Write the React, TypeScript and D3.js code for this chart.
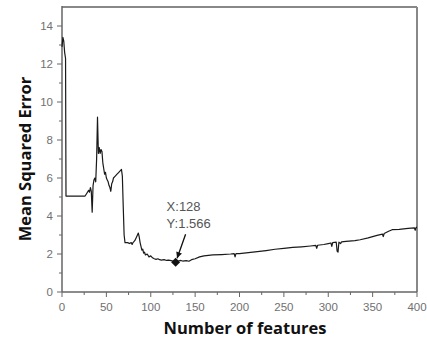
import React from "react";
import * as d3 from "d3";

const features: number[] = [0, 1, 2, 3, 4, 4.5, 10, 20, 26, 28, 30, 31, 32, 33, 34, 35, 36, 37, 38, 39, 40, 41, 42, 43, 44, 45, 46, 47, 48, 49, 50, 51, 52, 53, 54, 55, 56, 57, 58, 60, 62, 64, 66, 67, 68, 69, 70, 71, 74, 76, 78, 79, 80, 82, 84, 86, 87, 88, 89, 90, 91, 92, 93, 94, 96, 98, 100, 102, 104, 106, 108, 110, 112, 115, 118, 120, 123, 126, 128, 130, 133, 136, 140, 143, 146, 150, 155, 160, 165, 170, 180, 190, 194, 195, 196, 200, 210, 220, 230, 240, 250, 260, 270, 280, 286, 287, 288, 295, 300, 303, 304, 305, 309, 310, 311, 312, 314, 315, 320, 330, 336, 345, 355, 361, 362, 363, 368, 372, 380, 390, 397, 398, 399, 400];
const mse: number[] = [12.9, 13.4, 13.2, 12.6, 12.3, 5.05, 5.05, 5.05, 5.05, 5.2, 5.35, 5.25, 5.5, 5.3, 4.2, 5.6, 5.9, 6.0, 5.8, 7.0, 9.2, 7.3, 7.6, 7.3, 7.5, 7.4, 6.8, 6.5, 6.2, 6.3, 6.0, 5.9, 5.8, 5.6, 5.5, 5.3, 5.7, 5.8, 6.0, 6.1, 6.2, 6.3, 6.4, 6.45, 6.1, 4.5, 3.0, 2.6, 2.6, 2.55, 2.6, 2.5, 2.6, 2.7, 2.9, 3.1, 2.9, 2.6, 2.4, 2.2, 2.25, 2.05, 2.1, 1.95, 2.0, 1.85, 1.9, 1.8, 1.75, 1.72, 1.75, 1.7, 1.68, 1.7, 1.66, 1.68, 1.65, 1.62, 1.566, 1.62, 1.66, 1.63, 1.65, 1.62, 1.7, 1.75, 1.85, 1.9, 1.93, 1.95, 1.97, 2.0, 2.02, 1.85, 2.02, 2.02, 2.07, 2.12, 2.18, 2.25, 2.3, 2.35, 2.38, 2.42, 2.45, 2.3, 2.46, 2.5, 2.55, 2.58, 2.4, 2.6, 2.62, 2.15, 2.1, 2.62, 2.55, 2.64, 2.66, 2.7, 2.75, 2.85, 2.98, 3.05, 2.92, 3.08, 3.2, 3.28, 3.3, 3.35, 3.38, 3.25, 3.4, 3.4];
const xTicks: number[] = [0, 50, 100, 150, 200, 250, 300, 350, 400];
const yTicks: number[] = [0, 2, 4, 6, 8, 10, 12, 14];
const bestX = 128;
const bestY = 1.566;

export default function App() {
  const W = 427, H = 343;
  const L = 62, R = 417, T = 7, B = 292;
  const x = d3.scaleLinear().domain([0, 400]).range([L, R]);
  const y = d3.scaleLinear().domain([0, 15]).range([B, T]);
  const pts = features.map((f, i) => [f, mse[i]] as [number, number]);
  const line = d3.line<[number, number]>().x(d => x(d[0])).y(d => y(d[1]));
  const xMinor = d3.range(25, 400, 50);
  const yMinor = d3.range(1, 15, 2);
  const px = x(bestX), py = y(bestY);
  const tickFont = "Liberation Sans, Arial, sans-serif";
  return (
    <svg width={W} height={H} style={{ position: "absolute", left: 0, top: 0, background: "#fff" }}>
      <defs>
        <marker id="ah" viewBox="0 0 10 10" refX="10" refY="5" markerWidth="7" markerHeight="6" orient="auto" markerUnits="userSpaceOnUse">
          <path d="M0,0 L10,5 L0,10 z" fill="#111" />
        </marker>
      </defs>
      <rect x={0} y={0} width={W} height={H} fill="#fff" />
      <line x1={L} y1={T} x2={R} y2={T} stroke="#888" strokeWidth={2} />
      <line x1={R} y1={T} x2={R} y2={B} stroke="#888" strokeWidth={2} />
      <line x1={L} y1={T - 1} x2={L} y2={B} stroke="#666" strokeWidth={1.5} />
      <line x1={L} y1={B} x2={R} y2={B} stroke="#666" strokeWidth={1.5} />
      {yTicks.map(t => (
        <g key={"y" + t}>
          <line x1={L - 5} x2={L} y1={y(t)} y2={y(t)} stroke="#666" strokeWidth={1} />
          <text x={L - 9} y={y(t)} dy="0.35em" textAnchor="end" fontSize={11.5} fill="#707070" fontFamily={tickFont}>{t}</text>
        </g>
      ))}
      {yMinor.map(t => (
        <line key={"ym" + t} x1={L - 3} x2={L} y1={y(t)} y2={y(t)} stroke="#666" strokeWidth={1} />
      ))}
      {xTicks.map(t => (
        <g key={"x" + t}>
          <line x1={x(t)} x2={x(t)} y1={B} y2={B + 5} stroke="#666" strokeWidth={1} />
          <text x={x(t)} y={311} textAnchor="middle" fontSize={11.5} fill="#707070" fontFamily={tickFont}>{t}</text>
        </g>
      ))}
      {xMinor.map(t => (
        <line key={"xm" + t} x1={x(t)} x2={x(t)} y1={B} y2={B + 3} stroke="#666" strokeWidth={1} />
      ))}
      <path d={line(pts) || ""} fill="none" stroke="#1a1a1a" strokeWidth={1.2} strokeLinejoin="round" />
      <path d={`M${px},${py - 4.5} L${px + 4.5},${py} L${px},${py + 4.5} L${px - 4.5},${py} Z`} fill="#111" />
      <line x1={px + 10} y1={py - 28} x2={px + 1.5} y2={py - 4} stroke="#111" strokeWidth={1.3} markerEnd="url(#ah)" />
      <text x={px - 9} y={211} fontSize={13} fill="#555" fontFamily={tickFont}>X:{bestX}</text>
      <text x={px - 9} y={228} fontSize={13} fill="#555" fontFamily={tickFont}>Y:{bestY}</text>
      <text x={245} y={334} textAnchor="middle" fontSize={16.5} fontWeight="bold" fill="#111" fontFamily="Open Sans, sans-serif">Number of features</text>
      <text transform={`translate(31,159) rotate(-90)`} textAnchor="middle" fontSize={16.5} fontWeight="bold" fill="#111" fontFamily="Open Sans, sans-serif">Mean Squared Error</text>
    </svg>
  );
}
